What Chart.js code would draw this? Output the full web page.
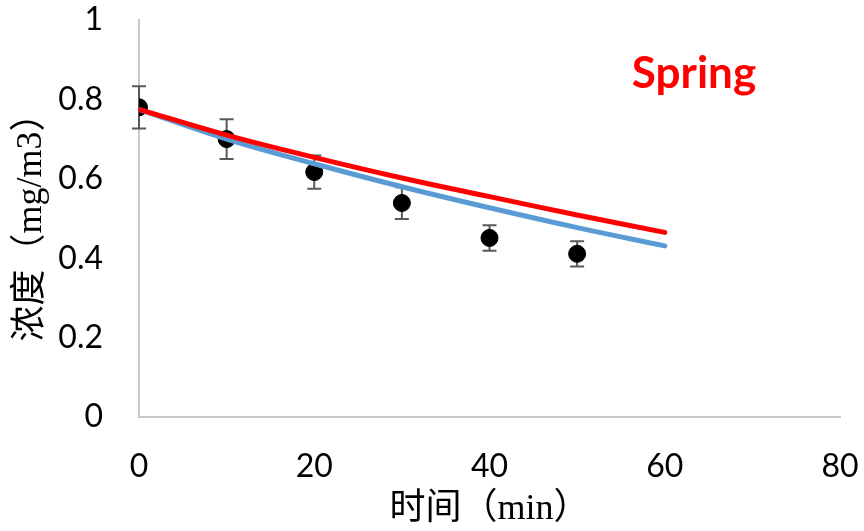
<!DOCTYPE html>
<html>
<head>
<meta charset="utf-8">
<script src="https://cdn.jsdelivr.net/npm/chart.js@4.4.1/dist/chart.umd.min.js"></script>
<style>
  html, body { margin: 0; padding: 0; background: #fff; }
  #wrap { width: 864px; height: 531px; }
</style>
</head>
<body>
<div id="wrap"><canvas id="decayChart" width="864" height="531"></canvas></div>
<script>
// measured concentration with error bars
const sampleTimes = [0, 10, 20, 30, 40, 50];
const measured = [0.78, 0.70, 0.617, 0.539, 0.451, 0.411];
const errors = [0.053, 0.05, 0.042, 0.04, 0.032, 0.032];

// model curves
const curveTimes = [0, 10, 20, 30, 40, 50, 60];
const modelBlue = [0.775, 0.70, 0.638, 0.58, 0.527, 0.477, 0.431];
const modelRed = [0.775, 0.71, 0.654, 0.602, 0.555, 0.509, 0.465];

const xTicks = [0, 20, 40, 60, 80];
const yTicks = [0, 0.2, 0.4, 0.6, 0.8, 1];

const seasonLabel = "Spring";
const xTitle = "时间（min）";
const yTitle = "浓度（mg/m3）";

const toXY = (xs, ys) => xs.map((x, i) => ({ x: x, y: ys[i] }));

// draw error bars under the markers
const errorBars = {
  id: "errorBars",
  beforeDatasetsDraw(chart) {
    const ctx = chart.ctx;
    const xs = chart.scales.x;
    const ys = chart.scales.y;
    ctx.save();
    ctx.strokeStyle = "#595959";
    ctx.lineWidth = 2;
    sampleTimes.forEach((t, i) => {
      const px = xs.getPixelForValue(t);
      const top = ys.getPixelForValue(measured[i] + errors[i]);
      const bot = ys.getPixelForValue(measured[i] - errors[i]);
      ctx.beginPath();
      ctx.moveTo(px, top);
      ctx.lineTo(px, bot);
      ctx.moveTo(px - 7, top);
      ctx.lineTo(px + 7, top);
      ctx.moveTo(px - 7, bot);
      ctx.lineTo(px + 7, bot);
      ctx.stroke();
    });
    ctx.restore();
  },
};

// season label inside the plot
const seasonText = {
  id: "seasonText",
  afterDraw(chart) {
    const ctx = chart.ctx;
    ctx.save();
    ctx.fillStyle = "#ff0000";
    ctx.font = "bold 44px Lato, 'Open Sans', sans-serif";
    ctx.textAlign = "center";
    ctx.textBaseline = "middle";
    ctx.fillText(seasonLabel, 694, 74);
    ctx.restore();
  },
};

const tickFont = { family: "Lato, 'Open Sans', sans-serif", size: 32 };
const titleFont = { family: "'Liberation Serif', 'Noto Sans CJK SC', serif", size: 36 };

new Chart(document.getElementById("decayChart"), {
  type: "scatter",
  data: {
    datasets: [
      {
        label: "red",
        data: toXY(curveTimes, modelRed),
        showLine: true,
        borderColor: "#ff0000",
        borderWidth: 5,
        pointRadius: 0,
        tension: 0.4,
        borderCapStyle: "round",
        order: 0,
      },
      {
        label: "blue",
        data: toXY(curveTimes, modelBlue),
        showLine: true,
        borderColor: "#5b9bd5",
        borderWidth: 5,
        pointRadius: 0,
        tension: 0.4,
        borderCapStyle: "round",
        order: 1,
      },
      {
        label: "measured",
        data: toXY(sampleTimes, measured),
        backgroundColor: "#000",
        borderColor: "#000",
        pointRadius: 8.5,
        order: 2,
      },
    ],
  },
  options: {
    responsive: false,
    animation: false,
    layout: { padding: 0 },
    plugins: { legend: { display: false }, tooltip: { enabled: false } },
    scales: {
      x: {
        type: "linear",
        min: 0,
        max: 80,
        afterBuildTicks: (s) => { s.ticks = xTicks.map((v) => ({ value: v })); },
        afterFit: (s) => {
          s.height = 114;
          s.paddingLeft = 0;
          s.paddingRight = 24;
        },
        grid: { display: false, drawTicks: false },
        border: { display: true, color: "#c8c8c8", width: 2 },
        ticks: { color: "#000", padding: 30, font: tickFont },
        title: {
          display: true,
          text: xTitle,
          color: "#000",
          padding: { top: 0, bottom: 0 },
          font: titleFont,
        },
      },
      y: {
        min: 0,
        max: 1,
        afterBuildTicks: (s) => { s.ticks = yTicks.map((v) => ({ value: v })); },
        afterFit: (s) => {
          s.width = 139;
          s.paddingTop = 20;
          s.paddingBottom = 0;
        },
        grid: { display: false, drawTicks: false },
        border: { display: true, color: "#c8c8c8", width: 2 },
        ticks: {
          color: "#000",
          padding: 36,
          font: tickFont,
          callback: (v) => String(Math.round(v * 10) / 10),
        },
        title: {
          display: true,
          text: yTitle,
          color: "#000",
          padding: { top: 10, bottom: 0 },
          font: titleFont,
        },
      },
    },
  },
  plugins: [errorBars, seasonText],
});
</script>
</body>
</html>
